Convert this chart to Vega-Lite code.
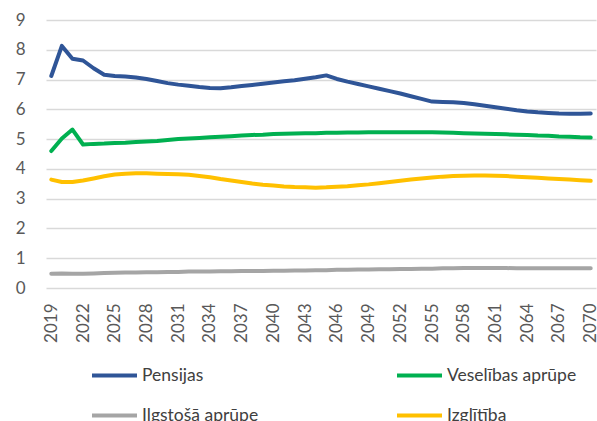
{
  "$schema": "https://vega.github.io/schema/vega-lite/v6.json",
  "width": 550,
  "height": 268,
  "autosize": "none",
  "padding": {"left": 46, "top": 20, "right": 1, "bottom": 133},
  "background": "white",
  "config": {"font": "Lato", "view": {"stroke": null}},
  "data": {"values": [
    {"year": 2019, "Pensijas": 7.12, "Veselības aprūpe": 4.60, "Ilgstošā aprūpe": 0.48, "Izglītība": 3.64},
    {"year": 2020, "Pensijas": 8.13, "Veselības aprūpe": 5.02, "Ilgstošā aprūpe": 0.49, "Izglītība": 3.56},
    {"year": 2021, "Pensijas": 7.70, "Veselības aprūpe": 5.32, "Ilgstošā aprūpe": 0.48, "Izglītība": 3.56},
    {"year": 2022, "Pensijas": 7.64, "Veselības aprūpe": 4.82, "Ilgstošā aprūpe": 0.48, "Izglītība": 3.61},
    {"year": 2023, "Pensijas": 7.38, "Veselības aprūpe": 4.84, "Ilgstošā aprūpe": 0.49, "Izglītība": 3.68},
    {"year": 2024, "Pensijas": 7.16, "Veselības aprūpe": 4.85, "Ilgstošā aprūpe": 0.50, "Izglītība": 3.75},
    {"year": 2025, "Pensijas": 7.12, "Veselības aprūpe": 4.87, "Ilgstošā aprūpe": 0.51, "Izglītība": 3.81},
    {"year": 2026, "Pensijas": 7.10, "Veselības aprūpe": 4.88, "Ilgstošā aprūpe": 0.52, "Izglītība": 3.84},
    {"year": 2027, "Pensijas": 7.07, "Veselības aprūpe": 4.90, "Ilgstošā aprūpe": 0.52, "Izglītība": 3.85},
    {"year": 2028, "Pensijas": 7.02, "Veselības aprūpe": 4.92, "Ilgstošā aprūpe": 0.53, "Izglītība": 3.85},
    {"year": 2029, "Pensijas": 6.95, "Veselības aprūpe": 4.94, "Ilgstošā aprūpe": 0.53, "Izglītība": 3.84},
    {"year": 2030, "Pensijas": 6.88, "Veselības aprūpe": 4.97, "Ilgstošā aprūpe": 0.54, "Izglītība": 3.83},
    {"year": 2031, "Pensijas": 6.83, "Veselības aprūpe": 5.00, "Ilgstošā aprūpe": 0.54, "Izglītība": 3.82},
    {"year": 2032, "Pensijas": 6.79, "Veselības aprūpe": 5.02, "Ilgstošā aprūpe": 0.55, "Izglītība": 3.80},
    {"year": 2033, "Pensijas": 6.75, "Veselības aprūpe": 5.04, "Ilgstošā aprūpe": 0.55, "Izglītība": 3.76},
    {"year": 2034, "Pensijas": 6.72, "Veselības aprūpe": 5.06, "Ilgstošā aprūpe": 0.55, "Izglītība": 3.72},
    {"year": 2035, "Pensijas": 6.71, "Veselības aprūpe": 5.08, "Ilgstošā aprūpe": 0.56, "Izglītība": 3.66},
    {"year": 2036, "Pensijas": 6.74, "Veselības aprūpe": 5.10, "Ilgstošā aprūpe": 0.56, "Izglītība": 3.61},
    {"year": 2037, "Pensijas": 6.78, "Veselības aprūpe": 5.12, "Ilgstošā aprūpe": 0.57, "Izglītība": 3.56},
    {"year": 2038, "Pensijas": 6.82, "Veselības aprūpe": 5.14, "Ilgstošā aprūpe": 0.57, "Izglītība": 3.51},
    {"year": 2039, "Pensijas": 6.86, "Veselības aprūpe": 5.15, "Ilgstošā aprūpe": 0.57, "Izglītība": 3.47},
    {"year": 2040, "Pensijas": 6.90, "Veselības aprūpe": 5.17, "Ilgstošā aprūpe": 0.58, "Izglītība": 3.44},
    {"year": 2041, "Pensijas": 6.94, "Veselības aprūpe": 5.18, "Ilgstošā aprūpe": 0.58, "Izglītība": 3.41},
    {"year": 2042, "Pensijas": 6.98, "Veselības aprūpe": 5.19, "Ilgstošā aprūpe": 0.59, "Izglītība": 3.39},
    {"year": 2043, "Pensijas": 7.03, "Veselības aprūpe": 5.20, "Ilgstošā aprūpe": 0.59, "Izglītība": 3.38},
    {"year": 2044, "Pensijas": 7.08, "Veselības aprūpe": 5.20, "Ilgstošā aprūpe": 0.60, "Izglītība": 3.37},
    {"year": 2045, "Pensijas": 7.14, "Veselības aprūpe": 5.21, "Ilgstošā aprūpe": 0.60, "Izglītība": 3.38},
    {"year": 2046, "Pensijas": 7.02, "Veselības aprūpe": 5.21, "Ilgstošā aprūpe": 0.61, "Izglītība": 3.40},
    {"year": 2047, "Pensijas": 6.93, "Veselības aprūpe": 5.22, "Ilgstošā aprūpe": 0.61, "Izglītība": 3.42},
    {"year": 2048, "Pensijas": 6.85, "Veselības aprūpe": 5.22, "Ilgstošā aprūpe": 0.62, "Izglītība": 3.45},
    {"year": 2049, "Pensijas": 6.77, "Veselības aprūpe": 5.23, "Ilgstošā aprūpe": 0.62, "Izglītība": 3.48},
    {"year": 2050, "Pensijas": 6.69, "Veselības aprūpe": 5.23, "Ilgstošā aprūpe": 0.63, "Izglītība": 3.52},
    {"year": 2051, "Pensijas": 6.61, "Veselības aprūpe": 5.23, "Ilgstošā aprūpe": 0.63, "Izglītība": 3.56},
    {"year": 2052, "Pensijas": 6.53, "Veselības aprūpe": 5.23, "Ilgstošā aprūpe": 0.64, "Izglītība": 3.60},
    {"year": 2053, "Pensijas": 6.44, "Veselības aprūpe": 5.23, "Ilgstošā aprūpe": 0.64, "Izglītība": 3.64},
    {"year": 2054, "Pensijas": 6.35, "Veselības aprūpe": 5.23, "Ilgstošā aprūpe": 0.65, "Izglītība": 3.68},
    {"year": 2055, "Pensijas": 6.26, "Veselības aprūpe": 5.23, "Ilgstošā aprūpe": 0.65, "Izglītība": 3.71},
    {"year": 2056, "Pensijas": 6.25, "Veselības aprūpe": 5.22, "Ilgstošā aprūpe": 0.66, "Izglītība": 3.74},
    {"year": 2057, "Pensijas": 6.24, "Veselības aprūpe": 5.21, "Ilgstošā aprūpe": 0.66, "Izglītība": 3.76},
    {"year": 2058, "Pensijas": 6.21, "Veselības aprūpe": 5.20, "Ilgstošā aprūpe": 0.67, "Izglītība": 3.77},
    {"year": 2059, "Pensijas": 6.17, "Veselības aprūpe": 5.19, "Ilgstošā aprūpe": 0.67, "Izglītība": 3.78},
    {"year": 2060, "Pensijas": 6.12, "Veselības aprūpe": 5.18, "Ilgstošā aprūpe": 0.67, "Izglītība": 3.78},
    {"year": 2061, "Pensijas": 6.07, "Veselības aprūpe": 5.17, "Ilgstošā aprūpe": 0.67, "Izglītība": 3.77},
    {"year": 2062, "Pensijas": 6.02, "Veselības aprūpe": 5.16, "Ilgstošā aprūpe": 0.67, "Izglītība": 3.76},
    {"year": 2063, "Pensijas": 5.97, "Veselības aprūpe": 5.15, "Ilgstošā aprūpe": 0.66, "Izglītība": 3.74},
    {"year": 2064, "Pensijas": 5.93, "Veselības aprūpe": 5.14, "Ilgstošā aprūpe": 0.66, "Izglītība": 3.72},
    {"year": 2065, "Pensijas": 5.90, "Veselības aprūpe": 5.12, "Ilgstošā aprūpe": 0.66, "Izglītība": 3.70},
    {"year": 2066, "Pensijas": 5.88, "Veselības aprūpe": 5.11, "Ilgstošā aprūpe": 0.66, "Izglītība": 3.68},
    {"year": 2067, "Pensijas": 5.86, "Veselības aprūpe": 5.09, "Ilgstošā aprūpe": 0.66, "Izglītība": 3.66},
    {"year": 2068, "Pensijas": 5.85, "Veselības aprūpe": 5.08, "Ilgstošā aprūpe": 0.66, "Izglītība": 3.64},
    {"year": 2069, "Pensijas": 5.85, "Veselības aprūpe": 5.06, "Ilgstošā aprūpe": 0.66, "Izglītība": 3.62},
    {"year": 2070, "Pensijas": 5.86, "Veselības aprūpe": 5.05, "Ilgstošā aprūpe": 0.66, "Izglītība": 3.60}
  ]},
  "transform": [
    {"fold": ["Pensijas", "Veselības aprūpe", "Ilgstošā aprūpe", "Izglītība"], "as": ["series", "value"]}
  ],
  "mark": {"type": "line", "strokeWidth": 4, "strokeCap": "round", "strokeJoin": "round"},
  "encoding": {
    "x": {
      "field": "year", "type": "quantitative",
      "scale": {"domain": [2018.5, 2070.5], "nice": false, "zero": false},
      "axis": {
        "values": [2019, 2022, 2025, 2028, 2031, 2034, 2037, 2040, 2043, 2046, 2049, 2052, 2055, 2058, 2061, 2064, 2067, 2070],
        "format": "d", "labelAngle": -90, "labelAlign": "right", "labelBaseline": "middle",
        "grid": false, "domain": false, "ticks": false, "labelPadding": 15,
        "labelFontSize": 17, "labelColor": "#595959", "labelFont": "Lato", "title": null, "labelOverlap": false
      }
    },
    "y": {
      "field": "value", "type": "quantitative",
      "scale": {"domain": [0, 9], "nice": false},
      "axis": {
        "values": [0, 1, 2, 3, 4, 5, 6, 7, 8, 9],
        "grid": true, "gridColor": "#d9d9d9", "gridWidth": 1.5, "domain": false, "ticks": false,
        "labelPadding": 21, "labelFontSize": 17, "labelColor": "#595959", "labelFont": "Lato", "title": null
      }
    },
    "color": {
      "field": "series", "type": "nominal",
      "scale": {
        "domain": ["Pensijas", "Ilgstošā aprūpe", "Veselības aprūpe", "Izglītība"],
        "range": ["#2F5597", "#A5A5A5", "#00B050", "#FFC000"]
      },
      "legend": {
        "title": null, "orient": "none", "legendX": 44, "legendY": 331,
        "columns": 2, "columnPadding": 130, "rowPadding": 7, "padding": 0,
        "symbolType": "stroke", "symbolSize": 2025, "symbolStrokeWidth": 4,
        "labelFontSize": 17.5, "labelColor": "#404040", "labelFont": "Lato", "labelOffset": 3,
        "labelLimit": 300
      }
    }
  }
}
